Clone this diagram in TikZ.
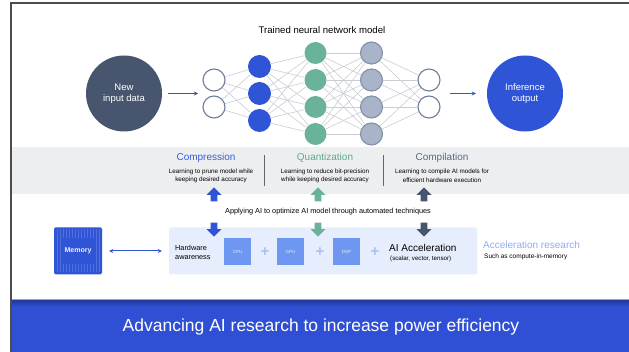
\documentclass[tikz,border=0pt]{standalone}
\usepackage{fontspec}
\setmainfont{Liberation Sans}
\usetikzlibrary{shapes.arrows,arrows.meta}
\definecolor{slateDark}{HTML}{48556F}
\definecolor{qBlue}{HTML}{2F55D6}
\definecolor{qGreen}{HTML}{6AB29A}
\definecolor{qGray}{HTML}{A9B4C8}
\definecolor{qGrayLine}{HTML}{8390A8}
\definecolor{qRing}{HTML}{6E7D99}
\definecolor{qEdge}{HTML}{C9CDD5}
\definecolor{bandGray}{HTML}{EDEEF0}
\definecolor{hwBlue}{HTML}{E6EDFC}
\definecolor{chipBlue}{HTML}{6E97F2}
\definecolor{plusBlue}{HTML}{A9C1F6}
\definecolor{accBlue}{HTML}{8EADF4}
\definecolor{compBlue}{HTML}{3B5BD9}
\definecolor{quantGreen}{HTML}{5EAA8F}
\definecolor{compilGray}{HTML}{5B6985}
\definecolor{barBlue}{HTML}{2F50D4}
\definecolor{barDark}{HTML}{24389A}

\begin{document}
\begin{tikzpicture}[x=1pt, y=-1pt,
                        neuron/.style={circle, minimum size=22pt, inner sep=0pt, line width=1.1pt},
                        bigdot/.style={circle, minimum size=76pt, inner sep=0pt, text=white, align=center, font=\fontsize{9.5}{11}\selectfont},
                        synapse/.style={qEdge, line width=0.6pt},
                        flowarrow/.style={line width=1pt, -{Stealth[length=4pt, width=4pt]}},
                        headtxt/.style={font=\fontsize{10}{12}\selectfont},
                        desctxt/.style={align=center, font=\fontsize{6.3}{8.5}\selectfont},
                        blockup/.style={single arrow, shape border rotate=90, minimum height=14pt, minimum width=15pt, inner sep=3pt, single arrow head extend=4pt},
                        blockdown/.style={blockup, shape border rotate=270},
                        chip/.style={fill=chipBlue, minimum size=27pt, inner sep=0pt, text=white!85!chipBlue, font=\fontsize{4.5}{5}\selectfont},
                        plussign/.style={text=plusBlue, font=\fontsize{15}{15}\selectfont\bfseries, inner sep=0pt},
                        smalltxt/.style={font=\fontsize{6.5}{8}\selectfont}]
                        \useasboundingbox (0,0) rectangle (629,352);
                        \fill[white] (0,0) rectangle (629,352);

                        % panel, band and bottom bar
                        \fill[bandGray] (12,147) rectangle (629,194);
                        \fill[barBlue] (12,300) rectangle (629,352);
                        \shade[top color=barDark, bottom color=barBlue] (12,300) rectangle (629,307);
                        \draw[gray!70, line width=0.8pt] (12,299.5) -- (629,299.5);
                        \draw[black!70, line width=1.3pt] (11,352) -- (11,3) -- (629,3);

                        % network
                        \node[font=\fontsize{9.6}{11}\selectfont] (nettitle) at (322,30) {Trained neural network model};
                        \node[bigdot, fill=slateDark] (newin) at (124,93.5) {New\\input data};
                        \node[bigdot, fill=qBlue] (infer) at (525,93.5) {Inference\\output};
                        \foreach \i/\y in {1/80,2/107}
                            \node[neuron, draw=qRing, fill=white] (in\i) at (214,\y) {};
                        \foreach \i/\y in {1/66.5,2/93.5,3/120.5}
                            \node[neuron, fill=qBlue, minimum size=23pt] (b\i) at (259.5,\y) {};
                        \foreach \i/\y in {1/53,2/80,3/107,4/134}
                            \node[neuron, fill=qGreen] (g\i) at (315.5,\y) {};
                        \foreach \i/\y in {1/53,2/80,3/107,4/134}
                            \node[neuron, draw=qGrayLine, fill=qGray] (h\i) at (371.5,\y) {};
                        \foreach \i/\y in {1/80,2/107}
                            \node[neuron, draw=qRing, fill=white] (out\i) at (429,\y) {};

                        \foreach \a in {1,2}
                            \foreach \b in {1,2,3}
                                \draw[synapse] (in\a) -- (b\b);
                        \foreach \a in {1,2,3}
                            \foreach \b in {1,...,4}
                                \draw[synapse] (b\a) -- (g\b);
                        \foreach \a in {1,...,4}
                            \foreach \b in {1,...,4}
                                \draw[synapse] (g\a) -- (h\b);
                        \foreach \a in {1,...,4}
                            \foreach \b in {1,2}
                                \draw[synapse] (h\a) -- (out\b);

                        \coordinate (netin) at (204,93.5);
                        \coordinate (netout) at (440,93.5);
                        \draw[flowarrow, slateDark, shorten <=6pt, shorten >=6pt] (newin) -- (netin);
                        \draw[flowarrow, qBlue, shorten <=10pt, shorten >=11pt] (netout) -- (infer);

                        % techniques
                        \node[headtxt, text=compBlue] (cmp) at (206,158) {Compression};
                        \node[desctxt] (cmpdesc) at (211,176) {Learning to prune model while\\keeping desired accuracy};
                        \node[headtxt, text=quantGreen] (qnt) at (325,158) {Quantization};
                        \node[desctxt] (qntdesc) at (325,176) {Learning to reduce bit-precision\\while keeping desired accuracy};
                        \node[headtxt, text=compilGray] (cpl) at (442,158) {Compilation};
                        \node[desctxt] (cpldesc) at (442,176) {Learning to compile AI models for\\efficient hardware execution};
                        \draw[black!60, line width=0.8pt] (264,155) -- (264,186);
                        \draw[black!60, line width=0.8pt] (383,155) -- (383,186);

                        \node[blockup, fill=qBlue] (cmpup) at (214,196) {};
                        \node[blockup, fill=qGreen] (qntup) at (318,196) {};
                        \node[blockup, fill=slateDark] (cplup) at (424,196) {};
                        \node[font=\fontsize{7.3}{9}\selectfont] (applying) at (328,212) {Applying AI to optimize AI model through automated techniques};

                        % hardware
                        \node[fill=hwBlue, rounded corners=1.5pt, minimum width=308pt, minimum height=47pt, inner sep=0pt] (hwbox) at (323,251) {};
                        \node[blockdown, fill=qBlue] (cmpdown) at (214,228) {};
                        \node[blockdown, fill=qGreen] (qntdown) at (318,228) {};
                        \node[blockdown, fill=slateDark] (cpldown) at (424,228) {};

                        \node[anchor=west, align=left, inner sep=0pt, font=\fontsize{7.3}{9}\selectfont] (hwaware) at (175,252) {Hardware\\awareness};
                        \node[chip] (cpu) at (237.5,251.5) {CPU};
                        \node[plussign] (plus1) at (265,252) {+};
                        \node[chip] (gpu) at (290.5,251.5) {GPU};
                        \node[plussign] (plus2) at (320,252) {+};
                        \node[chip] (dsp) at (346.5,251.5) {DSP};
                        \node[plussign] (plus3) at (375,252) {+};
                        \node[anchor=west, inner sep=0pt, font=\fontsize{10}{12}\selectfont] (aiacc) at (389,248) {AI Acceleration};
                        \node[anchor=west, inner sep=0pt, font=\fontsize{6.2}{7}\selectfont] (aiaccsub) at (390,258.5) {(scalar, vector, tensor)};

                        \node[anchor=west, inner sep=0pt, text=accBlue, font=\fontsize{10}{12}\selectfont] (accres) at (483,245) {Acceleration research};
                        \node[anchor=west, inner sep=0pt, smalltxt] (accsub) at (484,257) {Such as compute-in-memory};

                        % memory chip with grid frame
                        \node[fill=qBlue, rounded corners=1.5pt, minimum width=48pt, minimum height=47pt, inner sep=0pt] (memory) at (78,251) {};
                        \draw[white, opacity=0.16, line width=0.3pt] (56,229.5) grid[step=3] (100,272.5);
                        \fill[qBlue] (62,238) rectangle (94,264);
                        \node[text=white!92!qBlue, font=\fontsize{7}{8}\selectfont\bfseries] (memlabel) at (78,251) {Memory};
                        \draw[qBlue, line width=1pt, {Stealth[length=4pt, width=4pt]}-{Stealth[length=4pt, width=4pt]}, shorten <=7pt, shorten >=7pt] (memory.east) -- (hwbox.west);

                        % tagline
                        \node[text=white, font=\fontsize{17.5}{20}\selectfont] (tagline) at (321,327) {Advancing AI research to increase power efficiency};
                    \end{tikzpicture}
\end{document}
